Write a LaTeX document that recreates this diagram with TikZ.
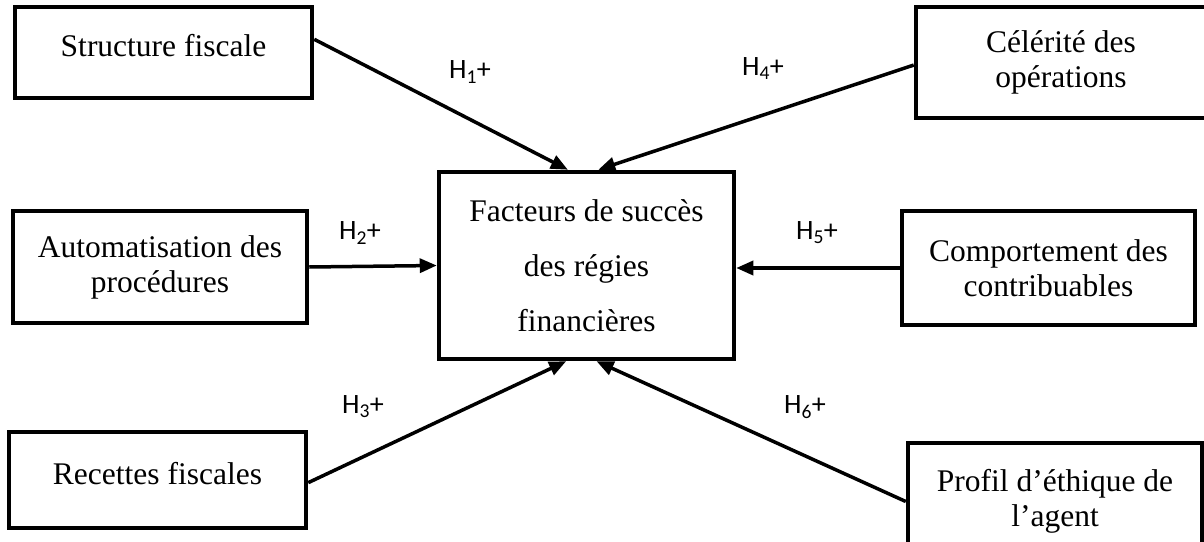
\documentclass[tikz,border=0pt]{standalone}
\usepackage{fontspec}
\setmainfont{Liberation Serif}
\newfontfamily\hypfont{Carlito}
\usetikzlibrary{arrows.meta}

\begin{document}
\begin{tikzpicture}[x=1pt, y=-1pt,
	varbox/.style={rectangle, draw, line width=4.5pt, inner sep=0pt, align=center,
		font=\fontsize{31.5}{35}\selectfont},
	lift/.style={text height=22pt, text depth=14pt},
	hyp/.style={font=\hypfont\fontsize{28}{30}\selectfont, inner sep=0pt},
	link/.style={line width=3.5pt, -{Triangle[length=17pt, width=14pt]}}]
	\useasboundingbox (0,0) rectangle (1204,541);

	% Variable dépendante
	\node[varbox, minimum width=295pt, minimum height=187pt,
		font=\fontsize{31.5}{55}\selectfont] (fac) at (586.5,265.5) {Facteurs de succès\\des régies\\financières};

	% Variables explicatives, à gauche
	\node[varbox, lift, minimum width=297pt, minimum height=91pt] (sf) at (163.5,52.5) {Structure fiscale};
	\node[varbox, minimum width=294pt, minimum height=112pt] (au) at (160,267) {Automatisation des\\procédures};
	\node[varbox, lift, minimum width=297pt, minimum height=96pt] (re) at (157.5,480) {Recettes fiscales};

	% Variables explicatives, à droite
	\node[varbox, minimum width=290pt, minimum height=111pt] (cel) at (1061,62.5) {Célérité des\\opérations};
	\node[varbox, minimum width=293pt, minimum height=114pt] (co) at (1048.5,268) {Comportement des\\contribuables};
	\node[varbox, minimum width=294pt, minimum height=117pt] (pr) at (1055,501.5) {Profil d’éthique de\\l’agent};

	% Hypothèses
	\node[hyp] (h1) at (470,72) {H\textsubscript{1}+};
	\node[hyp] (h2) at (360,233) {H\textsubscript{2}+};
	\node[hyp] (h3) at (363,407) {H\textsubscript{3}+};
	\node[hyp] (h4) at (763,69) {H\textsubscript{4}+};
	\node[hyp] (h5) at (817,233) {H\textsubscript{5}+};
	\node[hyp] (h6) at (805,407) {H\textsubscript{6}+};

	\draw[link] (sf.5.6) -- (fac.101.8);
	\draw[link] (au.east) -- (fac.west);
	\draw[link] (re.-1.2) -- (fac.258.8);
	\draw[link] (cel.181.4) -- (fac.83.6);
	\draw[link] (co.west) -- (co.west -| fac.east);
	\draw[link] (pr.west) -- (fac.276.4);
\end{tikzpicture}
\end{document}
